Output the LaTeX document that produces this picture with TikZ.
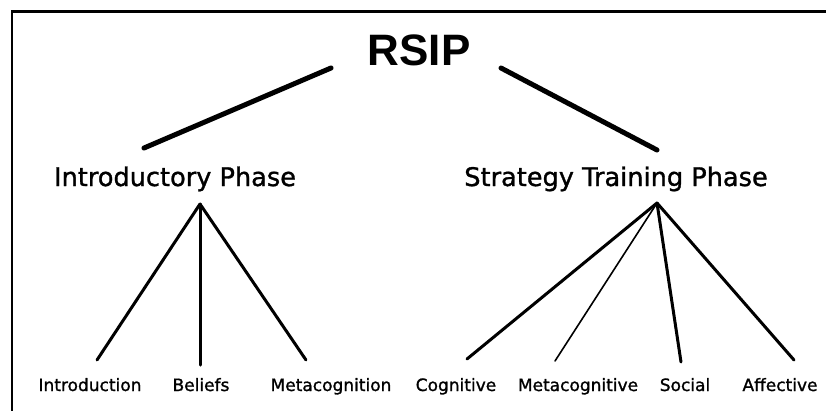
\documentclass[tikz,border=0pt]{standalone}
\usepackage{fontspec}
\setmainfont{DejaVu Sans}
\newfontfamily\titlefont{Liberation Sans}
\newfontfamily\labelfont[FakeBold=1.2]{DejaVu Sans}
\tikzset{
  title/.style={font=\titlefont\bfseries\fontsize{44}{48}\selectfont, inner sep=0pt, anchor=base},
  phase/.style={font=\labelfont\fontsize{25.6}{28}\selectfont, inner sep=0pt, anchor=base},
  leaf/.style={font=\labelfont\fontsize{17}{20}\selectfont, inner sep=0pt, anchor=base},
  thick line/.style={line width=5pt, line cap=round},
  mid line/.style={line width=3pt, line cap=round},
  thin line/.style={line width=1.6pt, line cap=round},
}
\begin{document}
\begin{tikzpicture}[x=1pt,y=-1pt]
\useasboundingbox (0,0) rectangle (826,410);
% frame (top and left edges only)
\draw[line width=2.2pt] (12,411) -- (12,11.5) -- (827,11.5);

% nodes
\node[title] (rsip) at (419,65) {RSIP};
\node[phase] (intro) at (175,186) {Introductory Phase};
\node[phase] (strat) at (616,186) {Strategy Training Phase};

\node[leaf] (l1) at (90,391) {Introduction};
\node[leaf] (l2) at (201,391) {Beliefs};
\node[leaf] (l3) at (331,391) {Metacognition};
\node[leaf] (l4) at (456,391) {Cognitive};
\node[leaf] (l5) at (578,391) {Metacognitive};
\node[leaf] (l6) at (685,391) {Social};
\node[leaf] (l7) at (780,391) {Affective};

% connector end points
\coordinate (rsipL) at (331,68);
\coordinate (rsipR) at (501,68);
\coordinate (introTop) at (144,148);
\coordinate (stratTop) at (657,150);
\coordinate (introApex) at (200,204);
\coordinate (stratApex) at (657,203);
\coordinate (l1top) at (97,360);
\coordinate (l2top) at (200,365);
\coordinate (l3top) at (306,360);
\coordinate (l4top) at (467,359);
\coordinate (l5top) at (555,361);
\coordinate (l6top) at (681,362);
\coordinate (l7top) at (794,360);

% connectors
\draw[thick line] (rsipL) -- (introTop);
\draw[thick line] (rsipR) -- (stratTop);

\draw[mid line] (introApex) -- (l1top);
\draw[mid line] (introApex) -- (l2top);
\draw[mid line] (introApex) -- (l3top);

\draw[mid line] (stratApex) -- (l4top);
\draw[thin line] (stratApex) -- (l5top);
\draw[mid line] (stratApex) -- (l6top);
\draw[mid line] (stratApex) -- (l7top);
\end{tikzpicture}
\end{document}
